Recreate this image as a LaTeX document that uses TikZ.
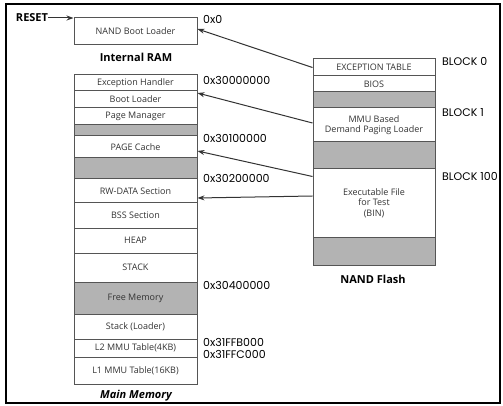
\documentclass[tikz,border=0pt]{standalone}
\usepackage{fontspec}
\setmainfont{Open Sans}
\newfontfamily\addrfont{Poppins}
\usetikzlibrary{arrows.meta,calc}
\definecolor{boxline}{HTML}{555555}
\definecolor{cellgray}{HTML}{B3B3B3}
\definecolor{txt}{HTML}{333333}
\definecolor{arrowc}{HTML}{333333}
\begin{document}
\begin{tikzpicture}[x=1pt,y=-1pt,
  cell/.style={draw=boxline, line width=1pt, fill=white, minimum width=123pt, inner sep=0pt, font=\fontsize{9}{10.5}\selectfont, text=txt, align=center},
  ncell/.style={cell, minimum width=122pt},
  shaded/.style={fill=cellgray},
  addr/.style={anchor=west, font=\addrfont\fontsize{11}{13}\selectfont, inner sep=0pt, text=black},
  ptr/.style={draw=arrowc, line width=1pt, -{Stealth[length=7pt,width=5pt]}},
  caption/.style={font=\bfseries\fontsize{11}{13}\selectfont, inner sep=0pt},
  framebox/.style={draw=black, line width=1.5pt}
]
\useasboundingbox (0,0) rectangle (503,406);
\draw[framebox] (6,4) rectangle (500,403);

% Internal RAM
\node[cell, minimum height=27pt] (iram) at (135.5,31.5) {NAND Boot Loader};
\node[caption] (iramcap) at (136,57) {Internal RAM};
\node[caption] (reset) at (32,18) {RESET};
\draw[ptr] (reset.east) -- (reset.east -| iram.west);

% Main memory
\node[cell, minimum height=16pt] (exc) at (135.5,83) {Exception Handler};
\node[cell, minimum height=17pt] (boot) at (135.5,99.5) {Boot Loader};
\node[cell, minimum height=17pt] (pman) at (135.5,116.5) {Page Manager};
\node[cell, shaded, minimum height=11pt] (g1) at (135.5,130.5) {};
\node[cell, minimum height=22pt] (pcache) at (135.5,147) {PAGE Cache};
\node[cell, shaded, minimum height=21pt] (g2) at (135.5,168.5) {};
\node[cell, minimum height=24pt] (rw) at (135.5,191) {RW-DATA Section};
\node[cell, minimum height=25pt] (bss) at (135.5,215.5) {BSS Section};
\node[cell, minimum height=25pt] (heap) at (135.5,240.5) {HEAP};
\node[cell, minimum height=29pt] (stack) at (135.5,267.5) {STACK};
\node[cell, shaded, minimum height=32pt] (free) at (135.5,298) {Free Memory};
\node[cell, minimum height=25pt] (stackl) at (135.5,326.5) {Stack (Loader)};
\node[cell, minimum height=18pt] (l2) at (135.5,348) {L2 MMU Table(4KB)};
\node[cell, minimum height=27pt] (l1) at (135.5,370.5) {L1 MMU Table(16KB)};
\node[caption, font=\bfseries\itshape\fontsize{11}{13}\selectfont] (mmcap) at (136,396) {Main Memory};

% Addresses
\node[addr] (a0) at (203,19) {0x0};
\node[addr] (a1) at (203,80) {0x30000000};
\node[addr] (a2) at (203,138) {0x30100000};
\node[addr] (a3) at (203,178) {0x30200000};
\node[addr] (a4) at (203,285) {0x30400000};
\node[addr] (a5) at (203,342) {0x31FFB000};
\node[addr] (a6) at (203,354) {0x31FFC000};

% NAND flash
\node[ncell, minimum height=17pt] (et) at (374,67.5) {EXCEPTION TABLE};
\node[ncell, minimum height=16pt] (bios) at (374,84) {BIOS};
\node[ncell, shaded, minimum height=16pt] (ng1) at (374,100) {};
\node[ncell, minimum height=34pt] (mmu) at (374,125) {MMU Based\\Demand Paging Loader};
\node[ncell, shaded, minimum height=27pt] (ng2) at (374,155.5) {};
\node[ncell, minimum height=68pt] (exe) at (374,203) {Executable File\\for Test\\(BIN)};
\node[ncell, shaded, minimum height=28pt] (ng3) at (374,251) {};
\node[caption] (nfcap) at (373,279) {NAND Flash};

\node[addr] (b0) at (442,62) {BLOCK 0};
\node[addr] (b1) at (442,113) {BLOCK 1};
\node[addr] (b100) at (442,177) {BLOCK 100};

% Pointers
\draw[ptr] (et.west) -- ([yshift=2.5pt]iram.east);
\draw[ptr] ([yshift=2pt]mmu.west) -- ([yshift=6.5pt]boot.east);
\draw[ptr] ([yshift=-8pt]exe.north west) -- ([yshift=-4pt]pcache.east);
\draw[ptr] ([yshift=7pt]exe.west) -- ([yshift=-7pt]rw.east);
\end{tikzpicture}
\end{document}
